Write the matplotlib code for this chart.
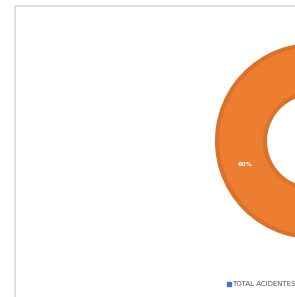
import matplotlib
matplotlib.use('Agg')
import matplotlib.pyplot as plt
from matplotlib.patches import Rectangle

labels = ['OUTROS', 'TOTAL ACIDENTES']
values = [40, 60]
colors = ['#ED7D31', '#ED7D31']

fig = plt.figure(figsize=(2.95, 2.97), dpi=100)
ax = fig.add_axes([0, 0, 1, 1])

# chart frame
ax.add_patch(Rectangle((14.5, -5), 300, 296, fill=False, ec='#D9D9D9', lw=1.2))

wedges, texts = ax.pie(values, colors=colors, radius=96, center=(313, 156),
                       startangle=90, counterclock=False,
                       wedgeprops=dict(width=48, edgecolor='#D8722D', linewidth=3),
                       frame=True)
ax.set_xlim(0, 295)
ax.set_ylim(0, 297)
ax.set_aspect('equal')
ax.axis('off')

ax.text(245, 132, '60%', color='white', fontsize=4.5, fontweight='bold',
        ha='center', va='center')

# legend
ax.add_patch(Rectangle((227, 11.5), 3.5, 3.5, color='#4472C4'))
ax.text(232, 13.2, 'TOTAL ACIDENTES', fontsize=5, color='#595959',
        ha='left', va='center')

fig.savefig('out.png', dpi=100)
